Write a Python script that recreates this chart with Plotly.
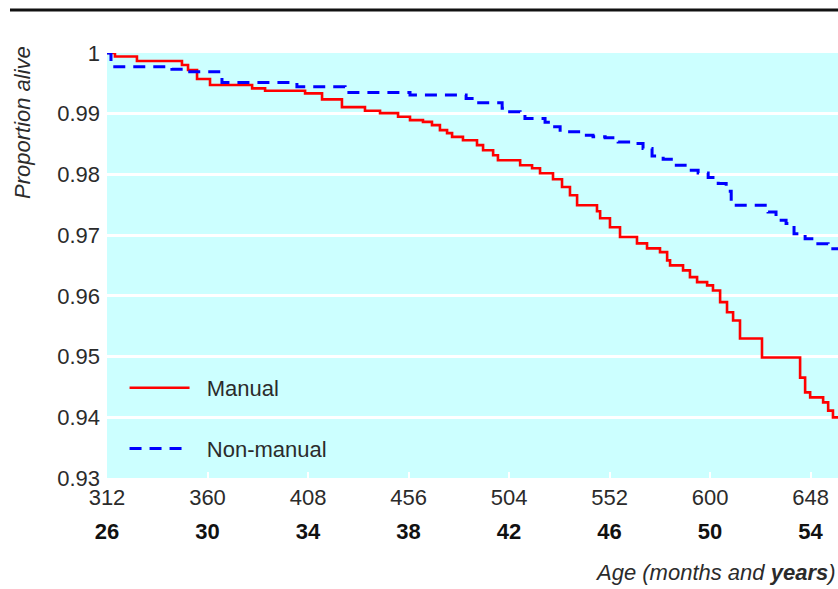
import plotly.graph_objects as go

# Manual (solid red) step curve: age in months, proportion alive
manual_months = [312, 315.8, 326.3, 347.8, 350.7, 355.0, 361.2, 381.3, 387.5, 406.6,
                 414.7, 424.2, 435.2, 442.4, 451.0, 456.7, 462.9, 467.2, 471.0, 474.4,
                 476.8, 482.0, 488.7, 491.6, 496.4, 498.7, 509.3, 515.0, 518.8, 525.0,
                 529.3, 533.1, 536.5, 546.0, 547.5, 552.2, 557.0, 565.1, 569.9, 576.1,
                 579.5, 580.9, 587.1, 590.4, 593.8, 598.6, 601.4, 604.8, 608.1, 611.0,
                 614.3, 624.8, 643.0, 645.4, 647.8, 654.0, 656.4, 658.7, 661.1]
manual_prop = [1.0, 0.99942, 0.99868, 0.99802, 0.99719, 0.99571, 0.99472, 0.99417, 0.99378, 0.99335,
               0.99236, 0.99109, 0.99048, 0.99010, 0.98949, 0.98894, 0.98866, 0.98812, 0.98729, 0.98680,
               0.98619, 0.98564, 0.98482, 0.98399, 0.98317, 0.98234, 0.98152, 0.98102, 0.98020, 0.97921,
               0.97794, 0.97657, 0.97492, 0.97393, 0.97277, 0.97129, 0.96969, 0.96865, 0.96782, 0.96721,
               0.96584, 0.96502, 0.96419, 0.96309, 0.96226, 0.96172, 0.96089, 0.95896, 0.95731, 0.95594,
               0.95297, 0.94984, 0.94653, 0.94411, 0.94328, 0.94246, 0.94109, 0.93998, 0.93998]

# Non-manual (dashed blue) step curve
nonmanual_months = [312, 313.9, 343.0, 349.3, 366.9, 402.7, 425.7, 456.7, 483.5, 487.8,
                    500.7, 503.5, 509.3, 511.6, 521.2, 524.5, 528.4, 539.3, 544.1, 549.9,
                    556.1, 563.2, 568.0, 572.3, 577.6, 582.3, 588.1, 594.3, 599.1, 603.9,
                    607.7, 610.1, 627.7, 631.5, 636.3, 640.1, 645.4, 650.1, 656.4, 661.1]
nonmanual_prop = [1.0, 0.99774, 0.99731, 0.99691, 0.99513, 0.99444, 0.99348, 0.99307, 0.99252, 0.99180,
                  0.99092, 0.99031, 0.98993, 0.98922, 0.98861, 0.98784, 0.98701, 0.98647, 0.98619, 0.98606,
                  0.98536, 0.98510, 0.98427, 0.98305, 0.98251, 0.98152, 0.98069, 0.98025, 0.97949, 0.97850,
                  0.97723, 0.97492, 0.97381, 0.97244, 0.97190, 0.97025, 0.96942, 0.96860, 0.96777, 0.96777]

month_ticks = [312, 360, 408, 456, 504, 552, 600, 648]
year_labels = ["26", "30", "34", "38", "42", "46", "50", "54"]
y_ticks = [1.0, 0.99, 0.98, 0.97, 0.96, 0.95, 0.94, 0.93]
y_labels = ["1", "0.99", "0.98", "0.97", "0.96", "0.95", "0.94", "0.93"]

FONT = "Liberation Sans, Arial, sans-serif"
TXT = "#2b2b2b"
NB = "\u00a0\u00a0"

fig = go.Figure()
fig.add_trace(go.Scatter(x=manual_months, y=manual_prop, mode="lines", name=NB + "Manual",
                         line=dict(color="#ff0000", width=2.6, shape="hv"),
                         legendgroup="a", hoverinfo="skip"))
fig.add_trace(go.Scatter(x=nonmanual_months, y=nonmanual_prop, mode="lines", name=NB + "Non-manual",
                         line=dict(color="#0000ff", width=3, shape="hv", dash="12px,8px"),
                         legendgroup="b", hoverinfo="skip"))
# carrier for the second (years) axis labels
fig.add_trace(go.Scatter(x=[312], y=[None], xaxis="x2", mode="lines",
                         showlegend=False, hoverinfo="skip"))

fig.update_layout(
    width=838, height=589,
    margin=dict(l=107, r=0, t=53, b=111),
    paper_bgcolor="white",
    plot_bgcolor="#ccffff",
    font=dict(family=FONT, size=22, color=TXT),
    showlegend=True,
    legend=dict(x=0.024, y=0.14, xanchor="left", yanchor="middle",
                bgcolor="rgba(0,0,0,0)", tracegroupgap=29, itemwidth=60,
                font=dict(family=FONT, size=22, color=TXT)),
    xaxis=dict(range=[312, 661.1], tickmode="array", tickvals=month_ticks,
               ticktext=[str(m) for m in month_ticks],
               showgrid=False, zeroline=False, showline=False,
               ticks="inside", ticklen=6, tickwidth=2, tickcolor="white",
               tickfont=dict(family=FONT, size=22, color=TXT),
               ticklabelstandoff=4),
    xaxis2=dict(range=[312, 661.1], overlaying="x", side="bottom", anchor="y",
                tickmode="array", tickvals=month_ticks,
                ticktext=["<b>" + y + "</b>" for y in year_labels],
                showgrid=False, zeroline=False, showline=False, ticks="",
                tickfont=dict(family=FONT, size=22, color="#111111"),
                ticklabelstandoff=38),
    yaxis=dict(range=[0.93, 1.0], tickmode="array", tickvals=y_ticks, ticktext=y_labels,
               showgrid=True, gridcolor="white", gridwidth=2.5,
               zeroline=False, showline=False, ticks="",
               tickfont=dict(family=FONT, size=22, color=TXT),
               ticklabelstandoff=6),
)

fig.add_annotation(text="<i>Proportion alive</i>", xref="paper", yref="paper",
                   x=-0.1163, y=0.8376, textangle=-90, showarrow=False,
                   xanchor="center", yanchor="middle",
                   font=dict(family=FONT, size=22, color=TXT))
fig.add_annotation(text="<i>Age (months and <b>years</b>)</i>", xref="paper", yref="paper",
                   x=1.0, y=-0.2235, showarrow=False, xanchor="right", yanchor="middle",
                   font=dict(family=FONT, size=22, color=TXT))
fig.add_shape(type="line", xref="paper", yref="paper", x0=-0.1327, x1=1.0,
              y0=1.1012, y1=1.1012, line=dict(color="#111111", width=3))

fig.write_html("out.html", config={"displayModeBar": False},
               post_script="document.body.style.margin='0';document.body.style.overflow='hidden';")
